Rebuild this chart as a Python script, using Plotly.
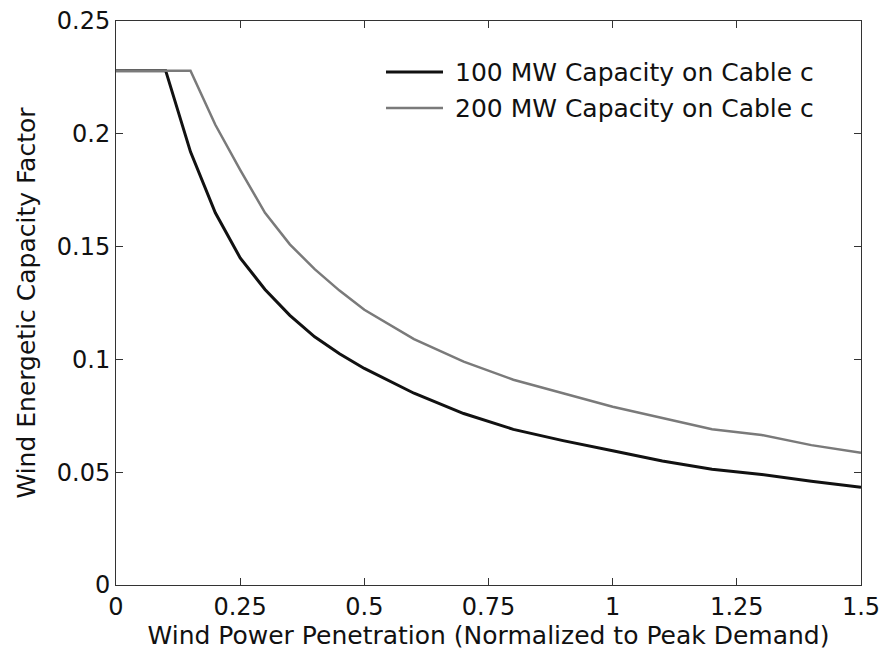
import plotly.graph_objects as go

x_100 = [0, 0.1, 0.15, 0.2, 0.25, 0.3, 0.35, 0.4, 0.45, 0.5, 0.6, 0.7, 0.8, 0.9, 1.0, 1.1, 1.2, 1.3, 1.4, 1.5]
y_100 = [0.228, 0.228, 0.192, 0.165, 0.145, 0.131, 0.1195, 0.110, 0.1025, 0.096, 0.085, 0.076, 0.069, 0.064, 0.0595, 0.055, 0.0513, 0.049, 0.046, 0.0433]

x_200 = [0, 0.15, 0.2, 0.25, 0.3, 0.35, 0.4, 0.45, 0.5, 0.6, 0.7, 0.8, 0.9, 1.0, 1.1, 1.2, 1.3, 1.4, 1.5]
y_200 = [0.228, 0.228, 0.204, 0.184, 0.165, 0.151, 0.140, 0.1305, 0.122, 0.109, 0.099, 0.091, 0.085, 0.079, 0.074, 0.069, 0.0665, 0.062, 0.0586]

names = ["100 MW Capacity on Cable c", "200 MW Capacity on Cable c"]
colors = ["#111111", "#7a7a7a"]
widths = [3, 2.5]

x_ticks = [0, 0.25, 0.5, 0.75, 1, 1.25, 1.5]
x_ticktext = ["0", "0.25", "0.5", "0.75", "1", "1.25", "1.5"]
y_ticks = [0, 0.05, 0.1, 0.15, 0.2, 0.25]
y_ticktext = ["0", "0.05", "0.1", "0.15", "0.2", "0.25"]

FONT = "DejaVu Sans"
TXT = "#111111"

fig = go.Figure()
for xs, ys, nm, c, w in [(x_100, y_100, names[0], colors[0], widths[0]),
                         (x_200, y_200, names[1], colors[1], widths[1])]:
    fig.add_trace(go.Scatter(x=xs, y=ys, mode="lines", name=nm,
                             line=dict(color=c, width=w),
                             showlegend=False))

W, H = 883, 656
L, R, T, B = 116, 22, 21, 71
pw, ph = W - L - R, H - T - B

def px2paper_x(px):
    return (px - L) / pw

def px2paper_y(py):
    return 1 - (py - T) / ph

# custom legend
for i, (nm, c, w) in enumerate(zip(names, colors, widths)):
    yc = 72 + 36 * i
    fig.add_shape(type="line", xref="paper", yref="paper",
                  x0=px2paper_x(386), x1=px2paper_x(443),
                  y0=px2paper_y(yc), y1=px2paper_y(yc),
                  line=dict(color=c, width=w))
    fig.add_annotation(xref="paper", yref="paper", x=px2paper_x(453), y=px2paper_y(yc),
                       text=nm, showarrow=False, xanchor="left", yanchor="middle",
                       font=dict(family=FONT, size=25, color=TXT))

axis_common = dict(showgrid=False, zeroline=False, showline=True, linecolor="#333333",
                   linewidth=1, ticks="inside", ticklen=7, tickcolor="#333333",
                   mirror="ticks", automargin=False,
                   tickfont=dict(family=FONT, size=24, color=TXT))

fig.update_layout(
    width=W, height=H,
    margin=dict(l=L, r=R, t=T, b=B),
    paper_bgcolor="white", plot_bgcolor="white",
    xaxis=dict(range=[0, 1.5], tickvals=x_ticks, ticktext=x_ticktext,
               title=dict(text="Wind Power Penetration (Normalized to Peak Demand)",
                          font=dict(family=FONT, size=25, color=TXT), standoff=0),
               **axis_common),
    yaxis=dict(range=[0, 0.25], tickvals=y_ticks, ticktext=y_ticktext,
               title=dict(text="Wind Energetic Capacity Factor",
                          font=dict(family=FONT, size=25, color=TXT), standoff=14),
               **axis_common),
)

fig.write_html("out.html")
